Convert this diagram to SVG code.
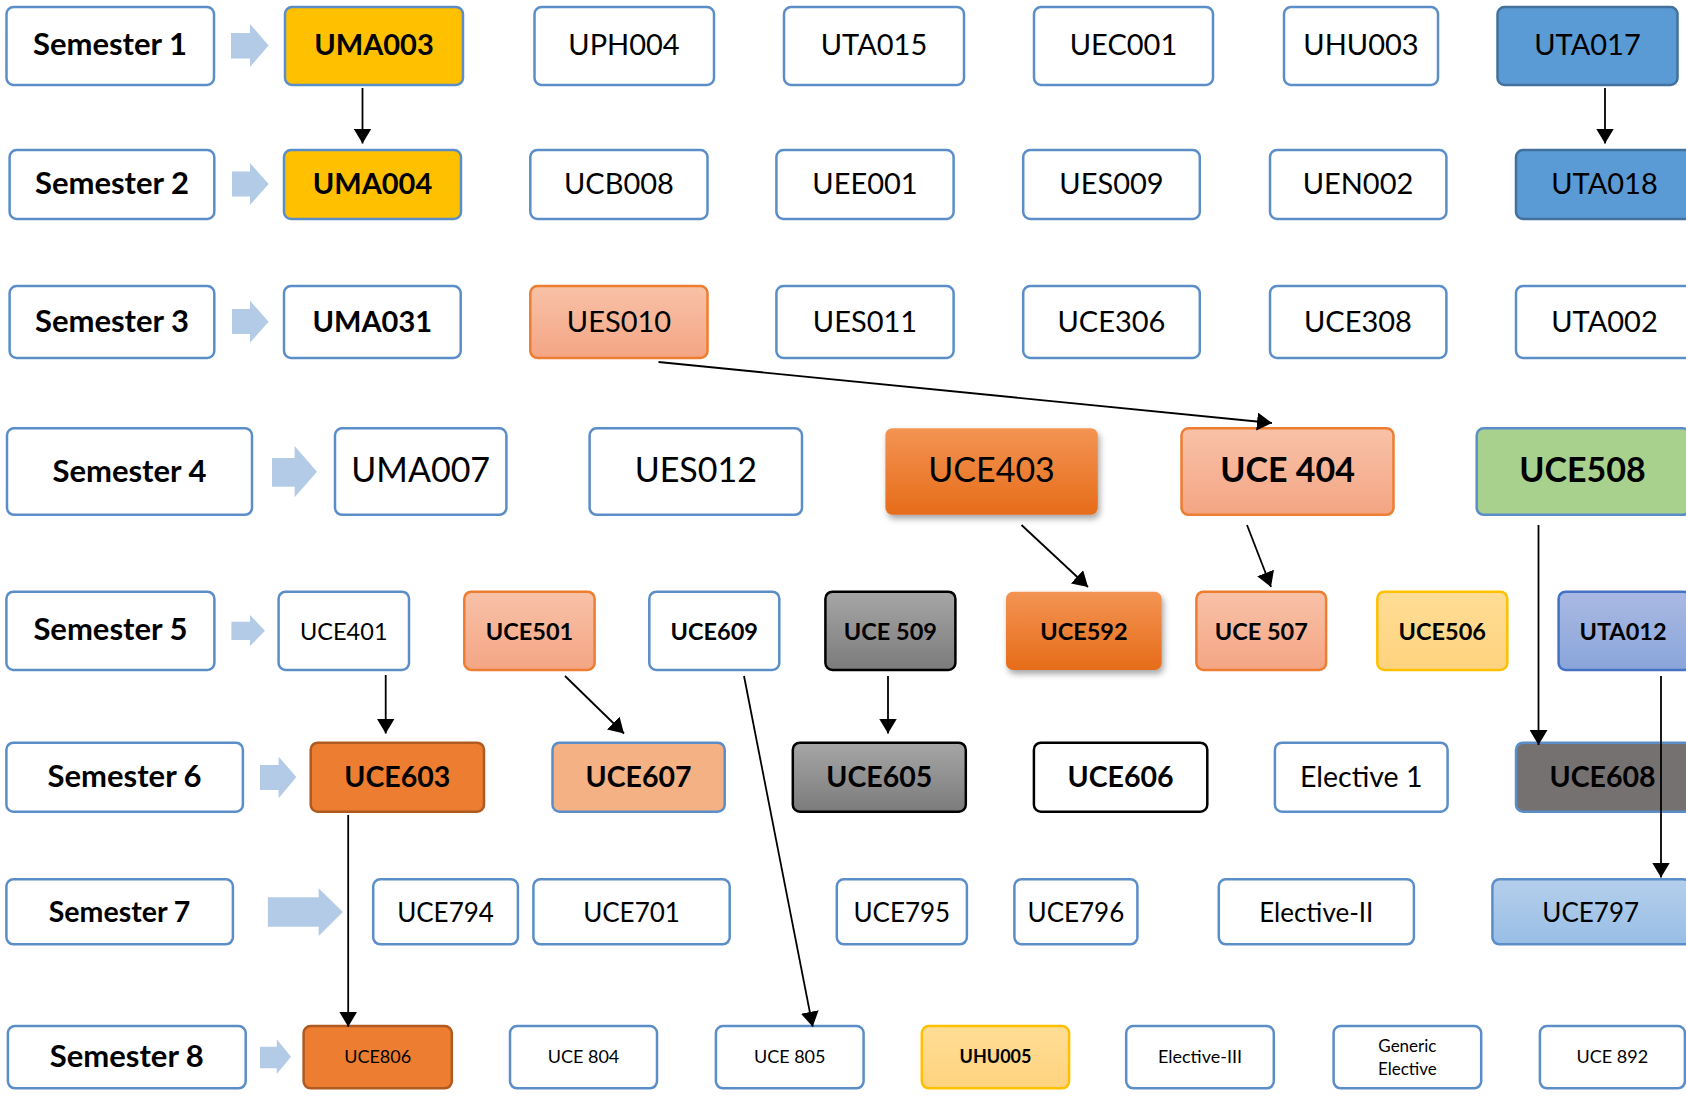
<svg xmlns="http://www.w3.org/2000/svg" width="1686" height="1096" viewBox="0 0 1686 1096">
<style>
text{font-family:Lato,"Liberation Sans",sans-serif;fill:#000;text-anchor:middle}
.b{font-weight:bold}
.box{fill:#fff;stroke:#5B8EC8;stroke-width:2.5}
.sem{font-size:31px;font-weight:bold}
.r1{font-size:29px}
.r4{font-size:34px}
.r5{font-size:23.5px}
.r6{font-size:28.5px}
.r7{font-size:26px}
.r8{font-size:18px}
.blk{fill:#B4CBE8}
.con line{stroke:#000;stroke-width:1.8;marker-end:url(#ah)}
</style>
<defs>
<marker id="ah" viewBox="0 0 15 18" markerWidth="15" markerHeight="18" refX="15" refY="9" orient="auto" markerUnits="userSpaceOnUse"><path d="M0,0 L15,9 L0,18 z" fill="#000"/></marker>
<linearGradient id="gSal" x1="0" y1="0" x2="0" y2="1"><stop offset="0" stop-color="#F8C2A8"/><stop offset="1" stop-color="#F4A583"/></linearGradient>
<linearGradient id="gOr" x1="0" y1="0" x2="0" y2="1"><stop offset="0" stop-color="#F39453"/><stop offset="1" stop-color="#E66C19"/></linearGradient>
<linearGradient id="gGr" x1="0" y1="0" x2="0" y2="1"><stop offset="0" stop-color="#A6A6A6"/><stop offset="1" stop-color="#7B7B7B"/></linearGradient>
<linearGradient id="gYe" x1="0" y1="0" x2="0" y2="1"><stop offset="0" stop-color="#FFDD96"/><stop offset="1" stop-color="#FFD37E"/></linearGradient>
<linearGradient id="gPe" x1="0" y1="0" x2="0" y2="1"><stop offset="0" stop-color="#AAB9E3"/><stop offset="1" stop-color="#8AA5DA"/></linearGradient>
<linearGradient id="gLb" x1="0" y1="0" x2="0" y2="1"><stop offset="0" stop-color="#B5CFEC"/><stop offset="1" stop-color="#98BEE5"/></linearGradient>
<filter id="sh" x="-10%" y="-10%" width="125%" height="135%"><feDropShadow dx="2" dy="4" stdDeviation="3" flood-color="#000" flood-opacity="0.35"/></filter>
</defs>

<g id="blockarrows">
<polygon class="blk" points="231,33 250,33 250,24 268.6,45.5 250,67 250,58.5 231,58.5"/>
<polygon class="blk" points="232,171.5 250,171.5 250,163 268.6,184 250,205 250,196.5 232,196.5"/>
<polygon class="blk" points="232,309 250,309 250,300.7 268.6,321.7 250,342.7 250,334 232,334"/>
<polygon class="blk" points="272,458 294.6,458 294.6,446 317,471.7 294.6,497.3 294.6,486.7 272,486.7"/>
<polygon class="blk" points="231.4,621.7 250,621.7 250,615 265,630.7 250,646 250,640 231.4,640"/>
<polygon class="blk" points="260,765 278.6,765 278.6,756.7 296.4,777 278.6,798.3 278.6,790 260,790"/>
<polygon class="blk" points="267.9,897.3 318.6,897.3 318.6,888.3 342.9,912 318.6,936 318.6,926.7 267.9,926.7"/>
<polygon class="blk" points="260,1046.7 276.8,1046.7 276.8,1039.3 291,1056.7 276.8,1074 276.8,1068.3 260,1068.3"/>
</g>

<!-- Row 1 -->
<g id="sem1"><rect class="box" x="6.5" y="7" width="207.5" height="78" rx="7"/><text class="sem" x="110" y="55">Semester 1</text></g>
<g id="UMA003"><rect class="box" x="285" y="7" width="178" height="78" rx="7" style="fill:#FFC000"/><text class="r1 b" x="374" y="55">UMA003</text></g>
<g id="UPH004"><rect class="box" x="534.5" y="7" width="179.5" height="78" rx="7"/><text class="r1" x="624" y="55">UPH004</text></g>
<g id="UTA015"><rect class="box" x="784" y="7" width="180" height="78" rx="7"/><text class="r1" x="874" y="55">UTA015</text></g>
<g id="UEC001"><rect class="box" x="1034" y="7" width="179" height="78" rx="7"/><text class="r1" x="1123.5" y="55">UEC001</text></g>
<g id="UHU003"><rect class="box" x="1284" y="7" width="154" height="78" rx="7"/><text class="r1" x="1361" y="55">UHU003</text></g>
<g id="UTA017"><rect class="box" x="1497.5" y="7" width="180" height="78" rx="7" style="fill:#5B9BD5;stroke:#41719C"/><text class="r1" x="1587.5" y="55">UTA017</text></g>

<!-- Row 2 -->
<g id="sem2"><rect class="box" x="9.6" y="150" width="204.7" height="69" rx="7"/><text class="sem" x="112" y="194">Semester 2</text></g>
<g id="UMA004"><rect class="box" x="284" y="150" width="177" height="69" rx="7" style="fill:#FFC000"/><text class="r1 b" x="372.5" y="194">UMA004</text></g>
<g id="UCB008"><rect class="box" x="530.3" y="150" width="177.2" height="69" rx="7"/><text class="r1" x="619" y="194">UCB008</text></g>
<g id="UEE001"><rect class="box" x="776.4" y="150" width="177.2" height="69" rx="7"/><text class="r1" x="865" y="194">UEE001</text></g>
<g id="UES009"><rect class="box" x="1023.2" y="150" width="176.6" height="69" rx="7"/><text class="r1" x="1111.5" y="194">UES009</text></g>
<g id="UEN002"><rect class="box" x="1270" y="150" width="176.4" height="69" rx="7"/><text class="r1" x="1358" y="194">UEN002</text></g>
<g id="UTA018"><rect class="box" x="1516" y="150" width="178" height="69" rx="7" style="fill:#5B9BD5;stroke:#41719C"/><text class="r1" x="1604.5" y="194">UTA018</text></g>

<!-- Row 3 -->
<g id="sem3"><rect class="box" x="9.6" y="286" width="204.7" height="72" rx="7"/><text class="sem" x="112" y="331.5">Semester 3</text></g>
<g id="UMA031"><rect class="box" x="284" y="286" width="176.7" height="72" rx="7"/><text class="r1 b" x="372.3" y="331.5">UMA031</text></g>
<g id="UES010"><rect class="box" x="530.3" y="286" width="177.2" height="72" rx="7" style="fill:url(#gSal);stroke:#ED7D31"/><text class="r1" x="619" y="331.5">UES010</text></g>
<g id="UES011"><rect class="box" x="776.4" y="286" width="177.2" height="72" rx="7"/><text class="r1" x="865" y="331.5">UES011</text></g>
<g id="UCE306"><rect class="box" x="1023.2" y="286" width="176.6" height="72" rx="7"/><text class="r1" x="1111.5" y="331.5">UCE306</text></g>
<g id="UCE308"><rect class="box" x="1270" y="286" width="176.4" height="72" rx="7"/><text class="r1" x="1358" y="331.5">UCE308</text></g>
<g id="UTA002"><rect class="box" x="1516" y="286" width="178" height="72" rx="7"/><text class="r1" x="1604.5" y="331.5">UTA002</text></g>

<!-- Row 4 -->
<g id="sem4"><rect class="box" x="7" y="428.3" width="245" height="86.5" rx="7"/><text class="sem" x="129.5" y="481.5">Semester 4</text></g>
<g id="UMA007"><rect class="box" x="335" y="428.3" width="171.4" height="86.5" rx="7"/><text class="r4" x="420.7" y="481.5">UMA007</text></g>
<g id="UES012"><rect class="box" x="589.6" y="428.3" width="212.4" height="86.5" rx="7"/><text class="r4" x="695.8" y="481.5">UES012</text></g>
<g id="UCE403"><rect x="885.4" y="428.3" width="212.4" height="86.5" rx="7" fill="url(#gOr)" filter="url(#sh)"/><text class="r4" x="991.6" y="481.5">UCE403</text></g>
<g id="UCE404"><rect class="box" x="1181.5" y="428.3" width="212" height="86.5" rx="7" style="fill:url(#gSal);stroke:#ED7D31"/><text class="r4 b" x="1287.5" y="481.5">UCE 404</text></g>
<g id="UCE508"><rect class="box" x="1476.7" y="428.3" width="213" height="86.5" rx="7" style="fill:#A9D18E"/><text class="r4 b" x="1582.5" y="481.5">UCE508</text></g>

<!-- Row 5 -->
<g id="sem5"><rect class="box" x="6.4" y="591.7" width="208" height="78.3" rx="7"/><text class="sem" x="110.4" y="640">Semester 5</text></g>
<g id="UCE401"><rect class="box" x="278.6" y="591.7" width="130.4" height="78.3" rx="7"/><text class="r5" x="343.8" y="639.5">UCE401</text></g>
<g id="UCE501"><rect class="box" x="464.3" y="591.7" width="130.3" height="78.3" rx="7" style="fill:url(#gSal);stroke:#ED7D31"/><text class="r5 b" x="529.5" y="639.5">UCE501</text></g>
<g id="UCE609"><rect class="box" x="649.3" y="591.7" width="130" height="78.3" rx="7"/><text class="r5 b" x="714.3" y="639.5">UCE609</text></g>
<g id="UCE509"><rect class="box" x="825.4" y="591.7" width="130" height="78.3" rx="7" style="fill:url(#gGr);stroke:#000"/><text class="r5 b" x="890.4" y="639.5">UCE 509</text></g>
<g id="UCE592"><rect x="1006" y="591.7" width="155.7" height="78.3" rx="7" fill="url(#gOr)" filter="url(#sh)"/><text class="r5 b" x="1083.9" y="639.5">UCE592</text></g>
<g id="UCE507"><rect class="box" x="1196.4" y="591.7" width="129.7" height="78.3" rx="7" style="fill:url(#gSal);stroke:#ED7D31"/><text class="r5 b" x="1261.3" y="639.5">UCE 507</text></g>
<g id="UCE506"><rect class="box" x="1377.3" y="591.7" width="130" height="78.3" rx="7" style="fill:url(#gYe);stroke:#FFC000"/><text class="r5 b" x="1442.3" y="639.5">UCE506</text></g>
<g id="UTA012"><rect class="box" x="1558.6" y="591.7" width="132" height="78.3" rx="7" style="fill:url(#gPe);stroke:#4472C4"/><text class="r5 b" x="1623" y="639.5">UTA012</text></g>

<!-- Row 6 -->
<g id="sem6"><rect class="box" x="6.4" y="742.7" width="236.5" height="69" rx="7"/><text class="sem" x="124.6" y="786.7">Semester 6</text></g>
<g id="UCE603"><rect class="box" x="310.7" y="742.7" width="173.3" height="69" rx="7" style="fill:#ED7D31;stroke:#AE5A21"/><text class="r6 b" x="397.3" y="786.7">UCE603</text></g>
<g id="UCE607"><rect class="box" x="552.5" y="742.7" width="172.2" height="69" rx="7" style="fill:#F4B183"/><text class="r6 b" x="638.6" y="786.7">UCE607</text></g>
<g id="UCE605"><rect class="box" x="792.8" y="742.7" width="173" height="69" rx="7" style="fill:url(#gGr);stroke:#000"/><text class="r6 b" x="879.3" y="786.7">UCE605</text></g>
<g id="UCE606"><rect class="box" x="1033.9" y="742.7" width="173.4" height="69" rx="7" style="stroke:#000"/><text class="r6 b" x="1120.6" y="786.7">UCE606</text></g>
<g id="Elective1"><rect class="box" x="1274.9" y="742.7" width="172.7" height="69" rx="7"/><text class="r6" x="1361.2" y="786.7">Elective 1</text></g>
<g id="UCE608"><rect class="box" x="1516" y="742.7" width="176" height="69" rx="7" style="fill:#767171"/><text class="r6 b" x="1602.6" y="786.7">UCE608</text></g>

<!-- Row 7 -->
<g id="sem7"><rect class="box" x="6.4" y="879.3" width="226.5" height="65" rx="7"/><text class="sem" style="font-size:28.5px" x="119.6" y="921.7">Semester 7</text></g>
<g id="UCE794"><rect class="box" x="373.2" y="879.3" width="144.7" height="65" rx="7"/><text class="r7" x="445.5" y="921.7">UCE794</text></g>
<g id="UCE701"><rect class="box" x="533.4" y="879.3" width="196.3" height="65" rx="7"/><text class="r7" x="631.5" y="921.7">UCE701</text></g>
<g id="UCE795"><rect class="box" x="836.8" y="879.3" width="130.1" height="65" rx="7"/><text class="r7" x="901.8" y="921.7">UCE795</text></g>
<g id="UCE796"><rect class="box" x="1014.4" y="879.3" width="123" height="65" rx="7"/><text class="r7" x="1075.9" y="921.7">UCE796</text></g>
<g id="ElectiveII"><rect class="box" x="1218.8" y="879.3" width="195.1" height="65" rx="7"/><text class="r7" x="1316.3" y="921.7">Elective-II</text></g>
<g id="UCE797"><rect class="box" x="1492.4" y="879.3" width="198" height="65" rx="7" style="fill:url(#gLb)"/><text class="r7" x="1590.7" y="921.7">UCE797</text></g>

<!-- Row 8 -->
<g id="sem8"><rect class="box" x="7.9" y="1026" width="237.8" height="62.3" rx="7"/><text class="sem" x="126.8" y="1066.7">Semester 8</text></g>
<g id="UCE806"><rect class="box" x="303.6" y="1026" width="148.2" height="62.3" rx="7" style="fill:#ED7D31;stroke:#AE5A21"/><text class="r8" x="377.7" y="1062.7">UCE806</text></g>
<g id="UCE804"><rect class="box" x="510" y="1026" width="147" height="62.3" rx="7"/><text class="r8" x="583.5" y="1062.7">UCE 804</text></g>
<g id="UCE805"><rect class="box" x="715.9" y="1026" width="147.7" height="62.3" rx="7"/><text class="r8" x="789.7" y="1062.7">UCE 805</text></g>
<g id="UHU005"><rect class="box" x="921.8" y="1026" width="147.3" height="62.3" rx="7" style="fill:url(#gYe);stroke:#FFC000"/><text class="r8 b" x="995.5" y="1062.7">UHU005</text></g>
<g id="ElectiveIII"><rect class="box" x="1126.2" y="1026" width="147.6" height="62.3" rx="7"/><text class="r8" x="1200" y="1062.7">Elective-III</text></g>
<g id="GenericElective"><rect class="box" x="1333.6" y="1026" width="147.6" height="62.3" rx="7"/><text class="r8" style="font-size:17px" x="1407.4" y="1051.5">Generic</text><text class="r8" style="font-size:17px" x="1407.4" y="1074.5">Elective</text></g>
<g id="UCE892"><rect class="box" x="1539.9" y="1026" width="145" height="62.3" rx="7"/><text class="r8" x="1612.4" y="1062.7">UCE 892</text></g>

<g id="connectors" class="con">
<line x1="362.5" y1="88" x2="362.5" y2="143.5"/>
<line x1="1605" y1="88" x2="1605" y2="143.5"/>
<line x1="658.5" y1="362" x2="1272" y2="423"/>
<line x1="1021.5" y1="525" x2="1088" y2="587"/>
<line x1="1247" y1="525" x2="1271" y2="587"/>
<line x1="1538.5" y1="525" x2="1538.5" y2="745"/>
<line x1="385.7" y1="675" x2="385.7" y2="733.5"/>
<line x1="565" y1="676" x2="624" y2="733.5"/>
<line x1="744" y1="676" x2="812.7" y2="1026.7"/>
<line x1="888" y1="676" x2="888" y2="733.5"/>
<line x1="1661" y1="676" x2="1661" y2="877.5"/>
<line x1="348.2" y1="815" x2="348.2" y2="1026.7"/>
</g>
</svg>
